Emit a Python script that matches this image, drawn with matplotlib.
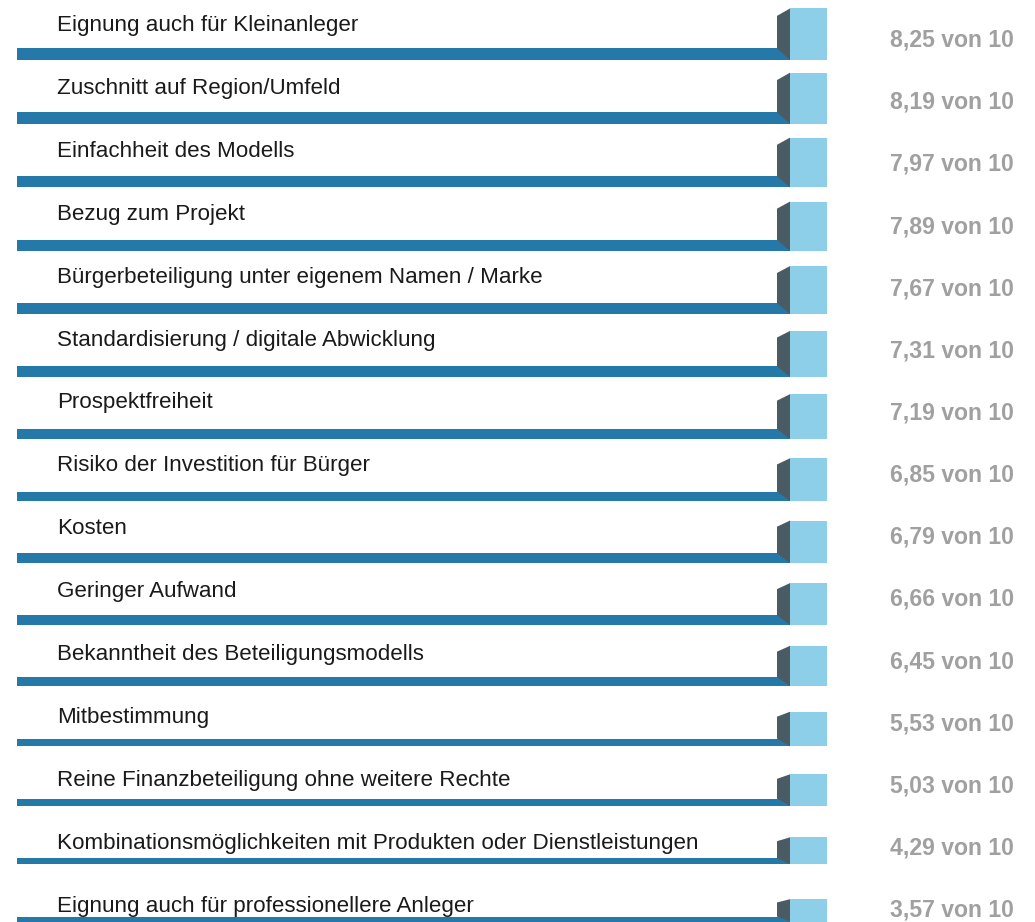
import matplotlib
matplotlib.use("Agg")
import matplotlib.pyplot as plt
from matplotlib.patches import Polygon

plt.rcParams['font.family'] = ['Liberation Sans', 'DejaVu Sans']

# Kriterien und Bewertung (von 10)
labels = [
    "Eignung auch für Kleinanleger",
    "Zuschnitt auf Region/Umfeld",
    "Einfachheit des Modells",
    "Bezug zum Projekt",
    "Bürgerbeteiligung unter eigenem Namen / Marke",
    "Standardisierung / digitale Abwicklung",
    "Prospektfreiheit",
    "Risiko der Investition für Bürger",
    "Kosten",
    "Geringer Aufwand",
    "Bekanntheit des Beteiligungsmodells",
    "Mitbestimmung",
    "Reine Finanzbeteiligung ohne weitere Rechte",
    "Kombinationsmöglichkeiten mit Produkten oder Dienstleistungen",
    "Eignung auch für professionellere Anleger",
]
values = [8.25, 8.19, 7.97, 7.89, 7.67, 7.31, 7.19, 6.85, 6.79, 6.66, 6.45, 5.53, 5.03, 4.29, 3.57]
max_value = 10

# farben
bar_col = "#2479a9"
front_col = "#8dcfe8"
side_col = "#4b5b64"
text_col = "#1a1a1a"
value_col = "#a0a0a0"

W, H = 1035, 922
fig = plt.figure(figsize=(W / 100, H / 100), dpi=100)
ax = fig.add_axes([0, 0, 1, 1])
ax.set_xlim(0, W)
ax.set_ylim(H, 0)
ax.axis("off")

# layout in pixeln
bar_left, side_left, front_left, front_right = 17, 777, 790, 827
first_bottom, row_gap = 60, 52.4
thick_k, box_k, slant_k = 1.4, 6.25, 0.9

bottom = first_bottom
for i, (lab, v) in enumerate(zip(labels, values)):
    if i > 0:
        bottom += row_gap + thick_k * v
    t = thick_k * v
    h = box_k * v
    s = slant_k * v
    top = bottom - h

    # blaue linie
    ax.barh(bottom - t / 2, front_left - bar_left, left=bar_left, height=t,
            color=bar_col, linewidth=0)
    # vorderseite
    ax.bar((front_left + front_right) / 2, h, bottom=top, width=front_right - front_left,
           color=front_col, linewidth=0)
    # seitenflaeche
    ax.add_patch(Polygon([(side_left, top + s), (front_left, top),
                          (front_left, bottom), (side_left, bottom - t)],
                         closed=True, facecolor=side_col, edgecolor="none"))

    ax.text(57, 30.7 + 62.96 * i, lab, fontsize=16.1, color=text_col, va="baseline", ha="left")
    ax.text(1014, 46.7 + 62.14 * i, f"{v:.2f}".replace(".", ",") + f" von {max_value}",
            fontsize=16.6, fontweight="bold", color=value_col, va="baseline", ha="right")

fig.savefig("out.png", dpi=100)
